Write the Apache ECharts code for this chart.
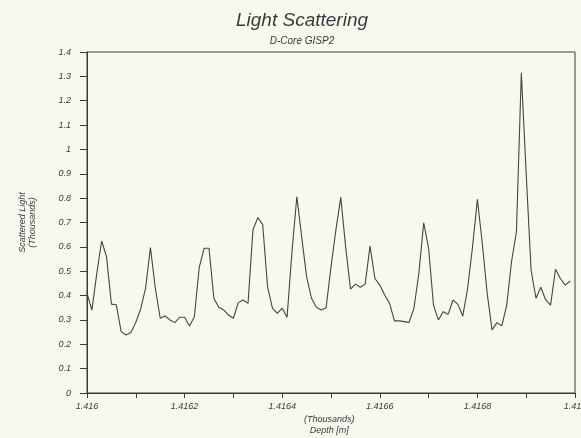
<!DOCTYPE html>
<html>
<head>
<meta charset="utf-8">
<script src="https://cdn.jsdelivr.net/npm/echarts@6/dist/echarts.min.js"></script>
<style>
  html, body { margin: 0; padding: 0; background: #f8f8ef; }
  #chart { width: 581px; height: 438px; }
</style>
</head>
<body>
<div id="chart"></div>
<script>
"use strict";

// depth sampling grid (thousands of metres), one reading per cm
const depthStart = 1.416;
const depthStep = 0.00001;

// scattered light readings (thousands)
const scatteredLight = [
  0.41, 0.34, 0.49, 0.624, 0.56, 0.365, 0.362, 0.252, 0.238, 0.248,
  0.29, 0.345, 0.43, 0.597, 0.43, 0.307, 0.316, 0.30, 0.289, 0.311,
  0.311, 0.275, 0.313, 0.516, 0.594, 0.594, 0.389, 0.352, 0.341, 0.32,
  0.307, 0.371, 0.382, 0.368, 0.669, 0.72, 0.692, 0.436, 0.348, 0.327,
  0.348, 0.311, 0.58, 0.806, 0.64, 0.477, 0.389, 0.352, 0.341, 0.35,
  0.518, 0.669, 0.803, 0.60, 0.426, 0.447, 0.434, 0.447, 0.603, 0.47,
  0.443, 0.402, 0.368, 0.296, 0.296, 0.293, 0.29, 0.348, 0.491, 0.699,
  0.594, 0.361, 0.30, 0.334, 0.323, 0.382, 0.364, 0.316, 0.43, 0.60,
  0.795, 0.615, 0.41, 0.259, 0.289, 0.276, 0.36, 0.54, 0.662, 1.315,
  0.90, 0.505, 0.389, 0.434, 0.382, 0.361, 0.508, 0.47, 0.443, 0.46
];

const xTicks = { min: 1.416, max: 1.417, step: 0.0001 };
const yTicks = { min: 0, max: 1.4, step: 0.1 };

const inkColor = "#3a3a3a";
const fontFamily = "'Liberation Sans', 'DejaVu Sans', sans-serif";

const seriesData = scatteredLight.map((v, i) => [depthStart + i * depthStep, v]);

const chart = echarts.init(document.getElementById("chart"));

chart.setOption({
  backgroundColor: "#f8f8ef",
  animation: false,
  title: {
    text: "Light Scattering",
    subtext: "D-Core GISP2",
    left: 297,
    top: 6,
    textAlign: "center",
    itemGap: 6,
    textStyle: {
      fontFamily: fontFamily,
      fontStyle: "italic",
      fontWeight: "normal",
      fontSize: 19,
      color: inkColor
    },
    subtextStyle: {
      fontFamily: fontFamily,
      fontStyle: "italic",
      fontSize: 10,
      color: inkColor
    }
  },
  grid: {
    left: 87,
    right: 6,
    top: 52,
    bottom: 45,
    outerBoundsMode: "none",
    containLabel: false,
    show: true,
    borderColor: inkColor,
    borderWidth: 1,
    backgroundColor: "transparent"
  },
  xAxis: {
    type: "value",
    min: xTicks.min,
    max: xTicks.max,
    interval: xTicks.step,
    axisLine: { lineStyle: { color: inkColor, width: 1 } },
    axisTick: { length: 5, lineStyle: { color: inkColor } },
    splitLine: { show: false },
    axisLabel: {
      margin: 9,
      fontFamily: fontFamily,
      fontStyle: "italic",
      fontSize: 9,
      color: inkColor,
      formatter: (v) => {
        const step = Math.round((v - xTicks.min) / xTicks.step);
        return step % 2 === 0 ? String(parseFloat(v.toFixed(5))) : "";
      }
    }
  },
  yAxis: {
    type: "value",
    min: yTicks.min,
    max: yTicks.max,
    interval: yTicks.step,
    name: "Scattered Light\n(Thousands)",
    nameLocation: "middle",
    nameGap: 50,
    nameTextStyle: {
      fontFamily: fontFamily,
      fontStyle: "italic",
      fontSize: 9,
      lineHeight: 10,
      color: inkColor
    },
    axisLine: { show: true, lineStyle: { color: inkColor, width: 1 } },
    axisTick: { show: true, length: 7, lineStyle: { color: inkColor } },
    splitLine: { show: false },
    axisLabel: {
      margin: 16,
      fontFamily: fontFamily,
      fontStyle: "italic",
      fontSize: 9,
      color: inkColor,
      formatter: (v) => String(parseFloat(v.toFixed(2)))
    }
  },
  graphic: [
    {
      type: "text",
      left: 304,
      top: 414,
      style: {
        text: "(Thousands)\nDepth [m]",
        textAlign: "center",
        fontFamily: fontFamily,
        fontStyle: "italic",
        fontSize: 9,
        lineHeight: 11,
        fill: inkColor
      }
    }
  ],
  series: [
    {
      type: "line",
      data: seriesData,
      showSymbol: false,
      lineStyle: { color: "#444", width: 1.1 },
      clip: true
    }
  ]
});
</script>
</body>
</html>
